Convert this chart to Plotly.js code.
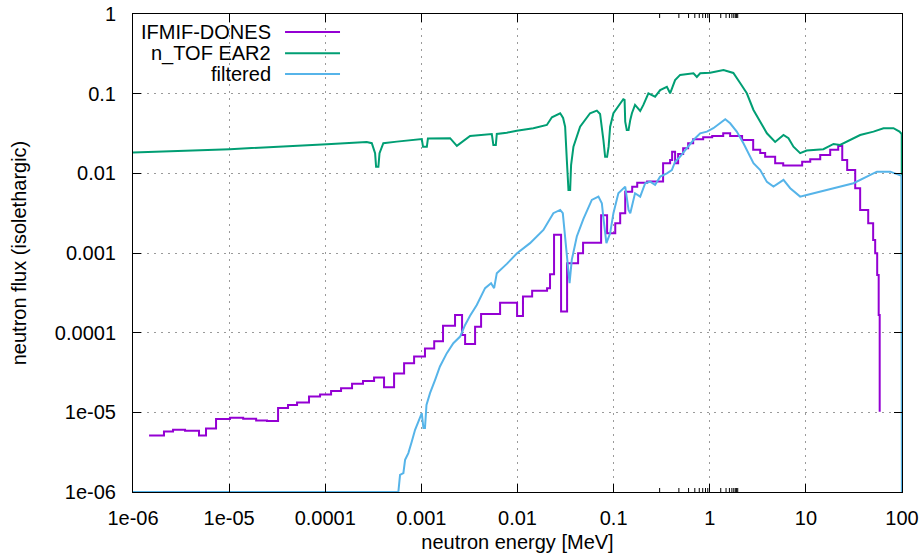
<!DOCTYPE html>
<html><head><meta charset="utf-8">
<script src="https://cdn.plot.ly/plotly-3.0.1.min.js"></script>
<style>html,body{margin:0;padding:0;background:#fff}#chart{width:924px;height:559px}</style>
</head><body><div id="chart"></div>
<script>
const ifmifEnergy = [1.47e-6, 2.10e-6, 2.61e-6, 3.48e-6, 4.86e-6, 5.75e-6, 7.31e-6, 1.02e-5, 1.40e-5, 1.91e-5, 2.48e-5, 3.23e-5, 4.10e-5, 5.09e-5, 6.78e-5, 8.83e-5, 1.15e-4, 1.46e-4, 1.90e-4, 2.47e-4, 3.22e-4, 4.09e-4, 5.20e-4, 6.61e-4, 8.40e-4, 1.09e-3, 1.36e-3, 1.68e-3, 2.24e-3, 2.65e-3, 2.85e-3, 3.62e-3, 4.18e-3, 6.59e-3, 9.90e-3, 1.14e-2, 1.42e-2, 2.03e-2, 2.18e-2, 2.40e-2, 2.84e-2, 3.28e-2, 4.27e-2, 4.81e-2, 7.41e-2, 8.55e-2, 0.104, 0.117, 0.132, 0.156, 0.176, 0.223, 0.327, 0.387, 0.406, 0.436, 0.469, 0.529, 0.596, 0.672, 0.854, 1.06, 1.38, 1.63, 2.17, 2.83, 3.35, 3.77, 4.79, 5.81, 9.15, 11.1, 14.1, 17.9, 21.7, 23.9, 26.9, 32.6, 36.7, 44.5, 50.1, 52.6, 55.2, 57.2, 58.6];
const ifmifFlux = [5.12e-6, 5.74e-6, 6.03e-6, 5.86e-6, 5.12e-6, 6.26e-6, 8.22e-6, 8.53e-6, 8.29e-6, 7.89e-6, 7.76e-6, 1.13e-5, 1.24e-5, 1.33e-5, 1.58e-5, 1.67e-5, 1.85e-5, 2.01e-5, 2.28e-5, 2.48e-5, 2.73e-5, 2.07e-5, 3.07e-5, 4.12e-5, 5.01e-5, 6.32e-5, 7.82e-5, 1.22e-4, 1.67e-4, 9.38e-5, 7.23e-5, 1.19e-4, 1.71e-4, 2.37e-4, 1.62e-4, 2.84e-4, 3.35e-4, 3.62e-4, 5.42e-4, 1.69e-3, 1.84e-4, 7.45e-4, 9.94e-4, 1.34e-3, 2.98e-3, 1.77e-3, 2.37e-3, 3.16e-3, 5.89e-3, 6.81e-3, 7.64e-3, 7.87e-3, 1.34e-2, 1.47e-2, 1.87e-2, 1.34e-2, 1.75e-2, 2.07e-2, 2.39e-2, 2.68e-2, 2.84e-2, 2.95e-2, 3.18e-2, 2.95e-2, 2.62e-2, 1.97e-2, 1.80e-2, 1.62e-2, 1.34e-2, 1.25e-2, 1.40e-2, 1.50e-2, 1.70e-2, 1.97e-2, 2.21e-2, 1.47e-2, 1.10e-2, 6.50e-3, 3.47e-3, 2.37e-3, 1.46e-3, 9.94e-4, 5.31e-4, 1.67e-4, 1.02e-5];

const ntofEnergy = [1.00e-6, 1.02e-5, 1.04e-4, 2.70e-4, 3.05e-4, 3.30e-4, 3.38e-4, 3.57e-4, 3.67e-4, 4.02e-4, 5.55e-4, 1.01e-3, 1.04e-3, 1.14e-3, 1.17e-3, 1.99e-3, 2.34e-3, 2.74e-3, 3.21e-3, 5.40e-3, 5.61e-3, 5.95e-3, 6.09e-3, 7.74e-3, 9.83e-3, 1.46e-2, 2.02e-2, 2.28e-2, 2.78e-2, 2.98e-2, 3.13e-2, 3.26e-2, 3.39e-2, 3.53e-2, 3.61e-2, 3.82e-2, 4.48e-2, 5.69e-2, 6.69e-2, 7.23e-2, 7.54e-2, 7.83e-2, 8.16e-2, 8.55e-2, 8.87e-2, 9.20e-2, 9.95e-2, 0.112, 0.126, 0.130, 0.132, 0.137, 0.143, 0.149, 0.155, 0.167, 0.189, 0.204, 0.230, 0.270, 0.305, 0.358, 0.387, 0.436, 0.492, 0.677, 0.734, 0.795, 1.01, 1.39, 1.76, 2.07, 2.43, 2.85, 3.35, 3.93, 4.79, 5.85, 6.59, 7.43, 8.72, 10.2, 15.2, 19.4, 22.7, 26.7, 36.7, 50.5, 64.2, 81.5, 94.2, 99.3, 100];
const ntofFlux = [0.0182, 0.0201, 0.0232, 0.0248, 0.0239, 0.0179, 0.0121, 0.0121, 0.0179, 0.0239, 0.0250, 0.0270, 0.0216, 0.0216, 0.0274, 0.0276, 0.0221, 0.0257, 0.0295, 0.0312, 0.0227, 0.0227, 0.0312, 0.0324, 0.0343, 0.0368, 0.0405, 0.0506, 0.0568, 0.0496, 0.0385, 0.0147, 0.00619, 0.00619, 0.0127, 0.0216, 0.0385, 0.0568, 0.0612, 0.0556, 0.0385, 0.0262, 0.0161, 0.0161, 0.0216, 0.0385, 0.0568, 0.0687, 0.0851, 0.0834, 0.0445, 0.0350, 0.0350, 0.0468, 0.0568, 0.0722, 0.0607, 0.0722, 0.101, 0.0917, 0.111, 0.122, 0.101, 0.148, 0.172, 0.180, 0.162, 0.180, 0.183, 0.198, 0.182, 0.136, 0.101, 0.0624, 0.0435, 0.0318, 0.0248, 0.0303, 0.0276, 0.0216, 0.0179, 0.0193, 0.0201, 0.0234, 0.0227, 0.0250, 0.0303, 0.0334, 0.0368, 0.0368, 0.0334, 0.0312, 1e-7];

const filteredEnergy = [1e-6, 5.76e-4, 6.00e-4, 6.50e-4, 6.77e-4, 7.32e-4, 7.95e-4, 8.60e-4, 9.31e-4, 1.01e-3, 1.05e-3, 1.09e-3, 1.13e-3, 1.23e-3, 1.39e-3, 1.56e-3, 1.84e-3, 2.15e-3, 2.53e-3, 2.85e-3, 3.21e-3, 3.77e-3, 4.60e-3, 5.31e-3, 5.71e-3, 6.09e-3, 7.74e-3, 9.90e-3, 1.35e-2, 1.86e-2, 2.36e-2, 2.78e-2, 2.96e-2, 3.13e-2, 3.31e-2, 3.48e-2, 3.67e-2, 4.14e-2, 4.85e-2, 5.93e-2, 6.95e-2, 7.54e-2, 7.83e-2, 8.41e-2, 9.20e-2, 9.95e-2, 0.112, 0.132, 0.143, 0.149, 0.167, 0.189, 0.213, 0.240, 0.270, 0.305, 0.358, 0.403, 0.436, 0.492, 0.578, 0.677, 0.795, 0.933, 1.09, 1.28, 1.45, 1.63, 1.91, 2.24, 2.53, 2.85, 3.35, 3.93, 4.60, 5.85, 6.87, 8.72, 10.2, 14.1, 22.7, 31.3, 43.1, 54.8, 75.4, 91.9, 99.3, 100];
const filteredFlux = [1e-6, 1e-6, 1.64e-6, 1.73e-6, 2.54e-6, 3.08e-6, 4.30e-6, 6.03e-6, 7.67e-6, 9.77e-6, 6.34e-6, 6.34e-6, 1.24e-5, 1.74e-5, 2.56e-5, 3.76e-5, 5.53e-5, 7.38e-5, 8.93e-5, 1.25e-4, 1.63e-4, 2.23e-4, 3.62e-4, 4.18e-4, 3.62e-4, 5.58e-4, 7.30e-4, 9.94e-4, 1.33e-3, 1.95e-3, 3.16e-3, 3.47e-3, 3.16e-3, 1.61e-3, 8.19e-4, 4.18e-4, 8.19e-4, 1.61e-3, 2.68e-3, 4.64e-3, 5.10e-3, 4.22e-3, 2.76e-3, 1.33e-3, 1.77e-3, 3.16e-3, 5.62e-3, 6.81e-3, 3.47e-3, 3.16e-3, 5.62e-3, 5.10e-3, 7.51e-3, 7.87e-3, 7.15e-3, 9.09e-3, 1.00e-2, 1.10e-2, 1.40e-2, 1.62e-2, 2.07e-2, 2.62e-2, 3.18e-2, 3.34e-2, 3.68e-2, 4.25e-2, 4.77e-2, 4.25e-2, 3.34e-2, 2.39e-2, 1.75e-2, 1.34e-2, 1.10e-2, 7.80e-3, 6.81e-3, 8.26e-3, 6.50e-3, 5.10e-3, 5.36e-3, 5.89e-3, 6.81e-3, 7.51e-3, 9.09e-3, 1.05e-2, 1.05e-2, 9.55e-3, 9.3e-3, 1e-7];

const seriesNames = ['IFMIF-DONES', 'n_TOF EAR2', 'filtered'];
const seriesColors = ['#9400d3', '#009e73', '#56b4e9'];
const xTickVals = [1e-6, 1e-5, 1e-4, 1e-3, 1e-2, 1e-1, 1, 10, 100];
const xTickText = ['1e-06', '1e-05', '0.0001', '0.001', '0.01', '0.1', '1', '10', '100'];
const yTickVals = [1e-6, 1e-5, 1e-4, 1e-3, 1e-2, 1e-1, 1];
const yTickText = ['1e-06', '1e-05', '0.0001', '0.001', '0.01', '0.1', '1'];

// minor tick positions (2..9 within every decade)
function minorTicks(decades) {
  const out = [];
  decades.slice(0, -1).forEach(d => { for (let m = 2; m <= 9; m++) out.push(m * d); });
  return out;
}
const xMinor = minorTicks(xTickVals);
const yMinor = minorTicks(yTickVals);

const FONT = 'Liberation Sans, Arial, Helvetica, sans-serif';
const PLOT_W = 769, PLOT_H = 478;

const traces = [
  {x: ifmifEnergy, y: ifmifFlux, mode: 'lines', line: {color: seriesColors[0], width: 2, shape: 'hv'}, name: seriesNames[0]},
  {x: ntofEnergy, y: ntofFlux, mode: 'lines', line: {color: seriesColors[1], width: 2}, name: seriesNames[1]},
  {x: filteredEnergy, y: filteredFlux, mode: 'lines', line: {color: seriesColors[2], width: 2}, name: seriesNames[2]}
];

const majorAxis = {
  type: 'log', showline: true, linecolor: '#000', linewidth: 1, mirror: 'ticks',
  ticks: 'inside', ticklen: 8, tickwidth: 1, tickcolor: '#000',
  showgrid: true, gridcolor: '#9a9a9a', gridwidth: 1, griddash: '2px,5px',
  zeroline: false, tickmode: 'array',
  tickfont: {family: FONT, size: 20, color: '#000'},
  automargin: false
};

const layout = {
  width: 924, height: 559,
  margin: {l: 133, r: 22, t: 14, b: 67, pad: 0},
  paper_bgcolor: '#fff', plot_bgcolor: '#fff',
  showlegend: false,
  font: {family: FONT, size: 20, color: '#000'},
  xaxis: Object.assign({}, majorAxis, {
    range: [-6, 2], tickvals: xTickVals, ticktext: xTickText, ticklabelstandoff: 8,
    title: {text: 'neutron energy [MeV]', font: {family: FONT, size: 20, color: '#000'}, standoff: 6}
  }),
  yaxis: Object.assign({}, majorAxis, {
    range: [-6, 0], tickvals: yTickVals, ticktext: yTickText, ticklabelstandoff: 12,
    title: {text: 'neutron flux (isolethargic)', font: {family: FONT, size: 20, color: '#000'}, standoff: 22}
  }),
  annotations: [],
  shapes: []
};

// gnuplot-style minor ticks (inside, on all four sides), placed through the axis scales
const tickStyle = {color: '#000', width: 1};
const mx = 4 / PLOT_H, my = 4 / PLOT_W;
xMinor.forEach(v => {
  const lx = Math.log10(v);
  layout.shapes.push({type: 'line', xref: 'x', yref: 'paper', x0: lx, x1: lx, y0: 0, y1: mx, line: tickStyle, layer: 'above'});
  layout.shapes.push({type: 'line', xref: 'x', yref: 'paper', x0: lx, x1: lx, y0: 1, y1: 1 - mx, line: tickStyle, layer: 'above'});
});
yMinor.forEach(v => {
  const ly = Math.log10(v);
  layout.shapes.push({type: 'line', xref: 'paper', yref: 'y', x0: 0, x1: my, y0: ly, y1: ly, line: tickStyle, layer: 'above'});
  layout.shapes.push({type: 'line', xref: 'paper', yref: 'y', x0: 1, x1: 1 - my, y0: ly, y1: ly, line: tickStyle, layer: 'above'});
});

// gnuplot-style legend: right-aligned label followed by a line sample
const legendRowY = [0.9624, 0.9178, 0.8745];
seriesNames.forEach((nm, i) => {
  layout.annotations.push({xref: 'paper', yref: 'paper', x: 0.1821, y: legendRowY[i], xanchor: 'right', yanchor: 'middle',
    text: nm, showarrow: false, font: {family: FONT, size: 20, color: '#000'}});
  layout.shapes.push({type: 'line', xref: 'paper', yref: 'paper', x0: 0.1977, x1: 0.2692, y0: legendRowY[i], y1: legendRowY[i],
    line: {color: seriesColors[i], width: 2}});
});

Plotly.newPlot('chart', traces, layout, {displayModeBar: false, staticPlot: true});
</script>
</body></html>
